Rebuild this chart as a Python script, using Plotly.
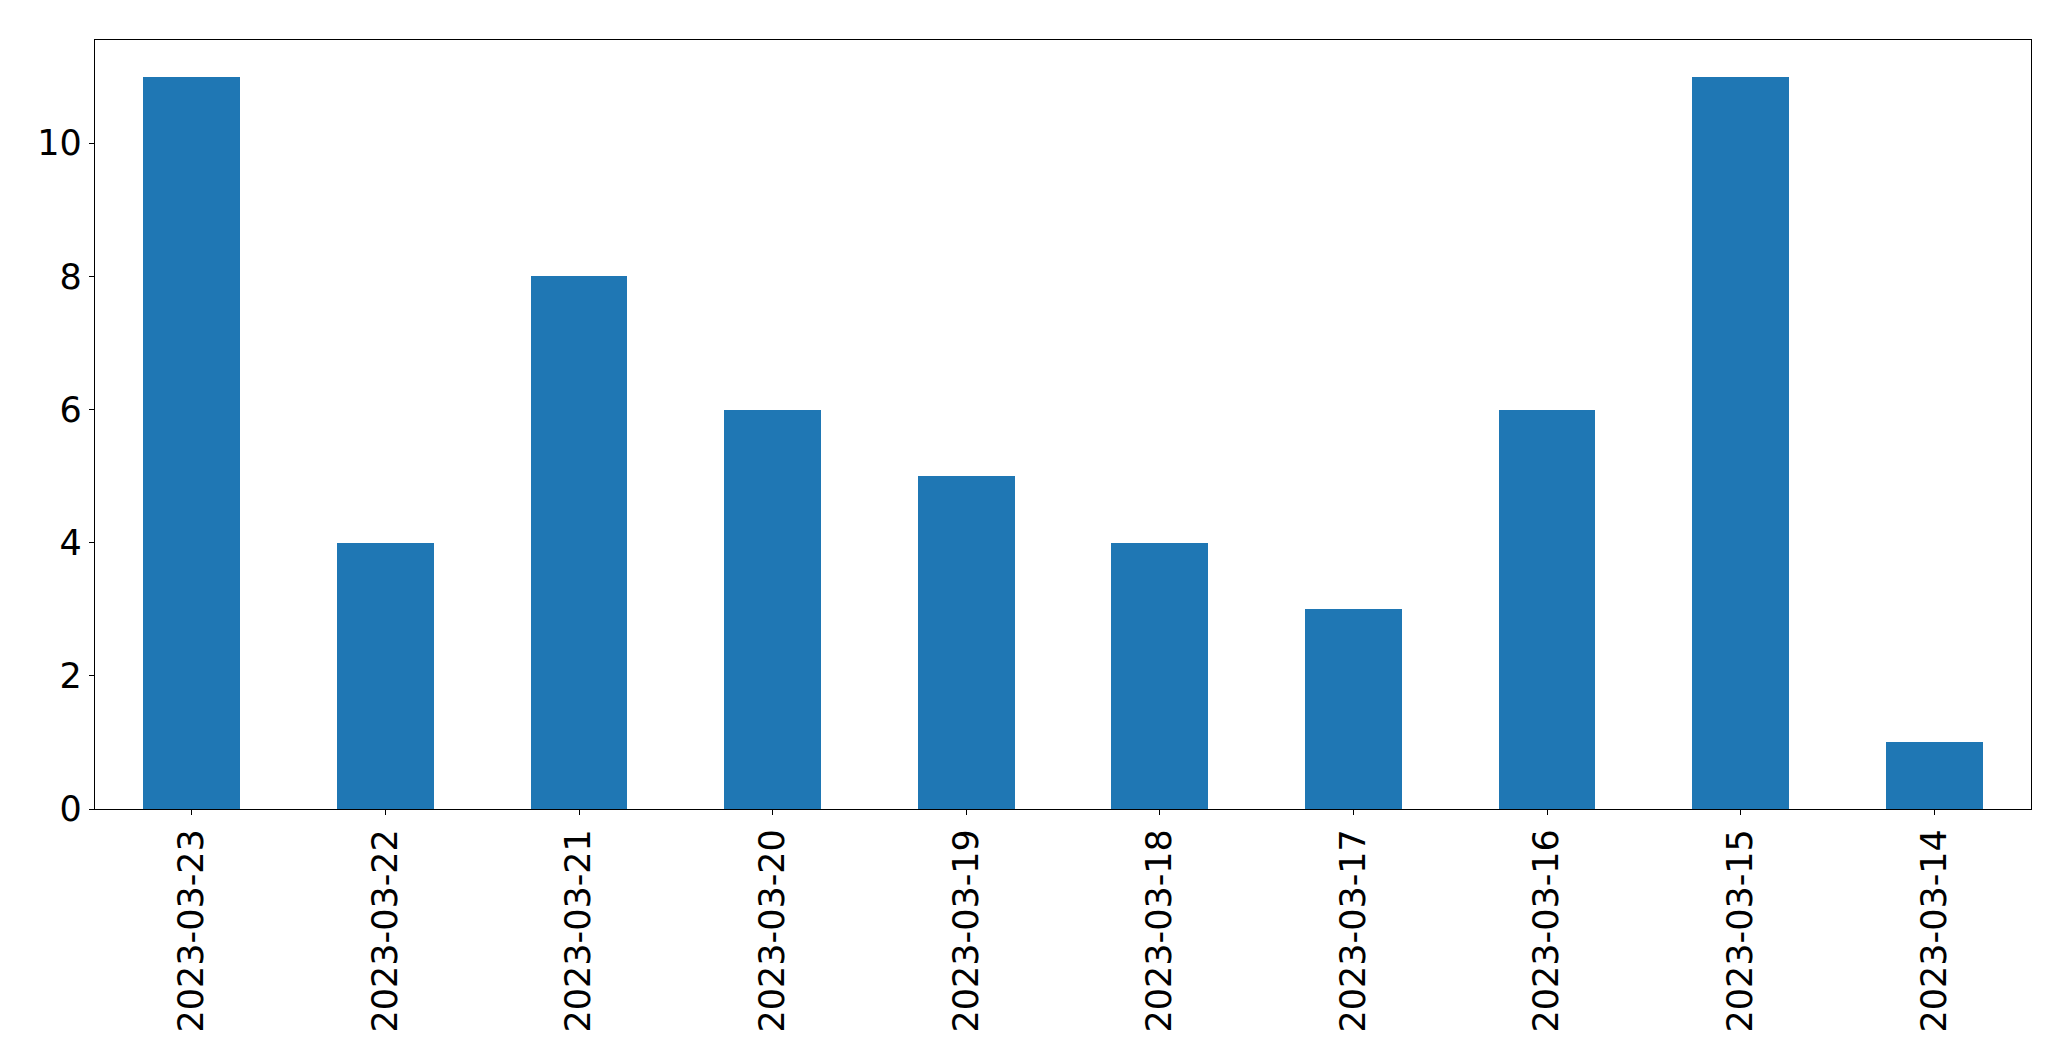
import plotly.graph_objects as go

dates = ["2023-03-23", "2023-03-22", "2023-03-21", "2023-03-20", "2023-03-19",
         "2023-03-18", "2023-03-17", "2023-03-16", "2023-03-15", "2023-03-14"]
counts = [11, 4, 8, 6, 5, 4, 3, 6, 11, 1]
y_ticks = [0, 2, 4, 6, 8, 10]

fig = go.Figure()
fig.add_trace(go.Bar(x=dates, y=counts, marker=dict(color="#1f77b4", line=dict(width=0)), width=0.5))

font = dict(family="DejaVu Sans", size=35, color="black")
# page body has an 8px default margin; compensate in size/margins
fig.update_layout(
    width=2063, height=1053,
    margin=dict(l=86.5, r=39.5, t=31.5, b=252, pad=0),
    plot_bgcolor="white", paper_bgcolor="white",
    showlegend=False, bargap=0,
    font=font,
)
fig.update_xaxes(
    type="category", range=[-0.5, 9.5], tickangle=-90,
    showline=True, linecolor="black", linewidth=1.3, mirror=True,
    ticks="outside", ticklen=5, tickwidth=1.3, tickcolor="black",
    showgrid=False, zeroline=False, tickfont=font,
)
fig.update_yaxes(
    range=[0, 11.55], tickvals=y_ticks,
    showline=True, linecolor="black", linewidth=1.3, mirror=True,
    ticks="outside", ticklen=5, tickwidth=1.3, tickcolor="black",
    showgrid=False, zeroline=False, tickfont=font,
)
fig.write_html("out.html")
